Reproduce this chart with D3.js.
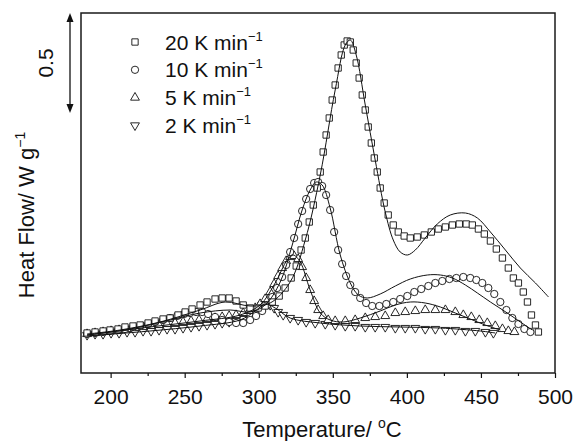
<!DOCTYPE html>
<html>
<head>
<meta charset="utf-8">
<script src="https://d3js.org/d3.v7.min.js"></script>
<style>
  html, body { margin: 0; padding: 0; background: #fff; }
  svg { display: block; font-family: "Liberation Sans", Arial, sans-serif; }
  .tick text { font-size: 21px; fill: #111; }
  .tick line { stroke: #111; stroke-width: 1.2; }
  .domain { display: none; }
</style>
</head>
<body>
<svg id="the-svg" width="573" height="441"></svg>
<script>

// Heating rates, legend order
const RATES = ['20', '10', '5', '2'];

const rate20 = [
  [184.1, 0.2], [189.5, 0.205], [194.9, 0.21], [199.6, 0.215], [205.0, 0.22], [209.7, 0.23],
  [215.1, 0.235], [219.9, 0.24], [225.3, 0.25], [230.0, 0.26], [235.4, 0.27], [240.1, 0.275],
  [245.5, 0.29], [250.3, 0.305], [255.0, 0.32], [260.4, 0.34], [265.1, 0.355], [270.5, 0.37],
  [275.3, 0.375], [280.0, 0.375], [284.7, 0.36], [289.5, 0.34], [294.2, 0.325], [299.6, 0.325],
  [304.3, 0.335], [309.1, 0.355], [313.8, 0.385], [317.8, 0.425], [321.9, 0.475], [325.3, 0.535],
  [328.6, 0.615], [331.4, 0.675], [334.1, 0.755], [336.8, 0.84], [339.5, 0.925], [341.5, 1.005],
  [343.5, 1.105], [345.5, 1.19], [347.6, 1.275], [349.6, 1.365], [351.6, 1.44], [353.6, 1.525],
  [355.7, 1.59], [357.7, 1.64], [359.7, 1.66], [361.8, 1.655], [363.8, 1.615], [365.8, 1.55],
  [367.8, 1.475], [369.9, 1.39], [371.9, 1.315], [373.9, 1.23], [376.0, 1.15], [378.0, 1.075],
  [380.0, 1.005], [382.0, 0.925], [384.7, 0.85], [387.4, 0.79], [390.8, 0.74], [394.2, 0.705],
  [398.2, 0.685], [402.3, 0.675], [407.0, 0.68], [411.8, 0.69], [416.5, 0.705], [421.2, 0.72],
  [426.0, 0.73], [430.7, 0.74], [435.4, 0.745], [440.1, 0.745], [444.2, 0.74], [448.3, 0.72],
  [452.3, 0.695], [456.4, 0.66], [460.4, 0.62], [464.5, 0.575], [468.5, 0.525], [471.9, 0.475],
  [475.3, 0.45], [478.6, 0.405], [481.4, 0.355], [484.1, 0.29], [486.8, 0.24], [488.8, 0.205]
];

const rate10 = [
  [184.1, 0.195], [189.5, 0.2], [194.9, 0.205], [199.6, 0.21], [205.0, 0.215], [209.7, 0.22],
  [215.1, 0.23], [219.9, 0.235], [225.3, 0.245], [230.0, 0.255], [235.4, 0.265], [240.1, 0.275],
  [244.9, 0.285], [249.6, 0.295], [253.6, 0.3], [257.7, 0.305], [261.8, 0.305], [265.8, 0.295],
  [270.5, 0.28], [275.3, 0.265], [280.0, 0.255], [284.7, 0.25], [289.5, 0.25], [294.2, 0.265],
  [298.2, 0.285], [302.3, 0.31], [305.7, 0.34], [309.1, 0.38], [312.4, 0.425], [315.8, 0.48],
  [318.5, 0.54], [321.2, 0.605], [323.9, 0.675], [326.6, 0.745], [329.3, 0.81], [332.0, 0.87],
  [334.7, 0.92], [337.4, 0.95], [340.1, 0.955], [342.8, 0.935], [345.5, 0.89], [348.2, 0.815],
  [350.9, 0.705], [353.6, 0.615], [356.3, 0.545], [359.0, 0.485], [361.8, 0.44], [365.1, 0.405],
  [368.5, 0.375], [372.5, 0.35], [376.6, 0.335], [381.4, 0.335], [386.1, 0.345], [390.8, 0.355],
  [395.5, 0.37], [400.3, 0.385], [405.0, 0.405], [409.7, 0.42], [414.5, 0.435], [419.2, 0.45],
  [423.9, 0.46], [428.7, 0.47], [433.4, 0.475], [438.1, 0.48], [442.8, 0.475], [446.9, 0.465],
  [450.9, 0.45], [455.0, 0.425], [459.0, 0.395], [463.1, 0.355], [467.2, 0.315], [471.2, 0.275],
  [475.3, 0.245], [479.3, 0.22], [483.4, 0.205]
];

const rate5 = [
  [184.1, 0.195], [189.5, 0.2], [194.9, 0.205], [200.3, 0.21], [205.7, 0.215], [211.1, 0.22],
  [216.5, 0.225], [221.9, 0.23], [227.3, 0.235], [232.7, 0.24], [238.1, 0.245], [243.5, 0.25],
  [248.9, 0.255], [254.3, 0.26], [259.7, 0.265], [265.1, 0.27], [270.5, 0.275], [275.3, 0.28],
  [280.0, 0.285], [284.7, 0.29], [289.5, 0.3], [293.5, 0.31], [297.6, 0.325], [300.9, 0.345],
  [304.3, 0.37], [307.7, 0.405], [310.4, 0.445], [313.1, 0.485], [315.8, 0.525], [318.5, 0.56],
  [321.2, 0.58], [323.9, 0.585], [326.6, 0.57], [329.3, 0.53], [332.0, 0.475], [334.7, 0.415],
  [337.4, 0.36], [340.1, 0.315], [343.5, 0.285], [346.9, 0.265], [351.6, 0.26], [358.4, 0.26],
  [365.1, 0.265], [371.9, 0.275], [378.6, 0.28], [385.4, 0.285], [392.2, 0.3], [398.9, 0.305],
  [405.7, 0.31], [412.4, 0.315], [419.2, 0.315], [426.0, 0.315], [432.7, 0.305], [438.1, 0.29],
  [443.5, 0.28], [448.9, 0.265], [454.3, 0.25], [459.7, 0.235], [464.5, 0.22], [468.5, 0.21],
  [472.6, 0.205]
];

const rate2 = [
  [184.1, 0.19], [189.5, 0.195], [194.9, 0.195], [200.3, 0.2], [205.7, 0.2], [211.1, 0.205],
  [216.5, 0.205], [221.9, 0.21], [227.3, 0.21], [232.7, 0.215], [238.1, 0.22], [243.5, 0.22],
  [248.9, 0.225], [254.3, 0.23], [259.7, 0.235], [265.1, 0.24], [270.5, 0.245], [275.3, 0.25],
  [280.0, 0.255], [284.7, 0.26], [289.5, 0.27], [293.5, 0.285], [296.9, 0.305], [299.6, 0.325],
  [302.3, 0.34], [305.0, 0.345], [307.7, 0.34], [310.4, 0.325], [313.1, 0.305], [316.5, 0.29],
  [321.2, 0.275], [326.6, 0.265], [332.0, 0.255], [338.1, 0.25], [344.9, 0.245], [351.6, 0.24],
  [358.4, 0.235], [365.1, 0.235], [371.9, 0.23], [378.6, 0.23], [385.4, 0.23], [392.2, 0.225],
  [398.9, 0.225], [405.7, 0.225], [412.4, 0.22], [419.2, 0.22], [426.0, 0.215], [432.7, 0.215],
  [439.5, 0.21], [446.2, 0.21], [453.0, 0.205], [458.4, 0.2]
];

// Model (fitted) curves drawn as thin solid lines
const fit20 = [
  [184.1, 0.195], [206.4, 0.215], [233.4, 0.255], [260.4, 0.315], [277.3, 0.355], [294.2, 0.335],
  [307.7, 0.35], [321.2, 0.455], [331.4, 0.665], [341.5, 0.99], [351.6, 1.415], [358.4, 1.64],
  [361.8, 1.665], [365.8, 1.59], [371.9, 1.34], [378.6, 1.065], [385.4, 0.805], [390.8, 0.665],
  [395.5, 0.605], [400.3, 0.59], [405.7, 0.615], [412.4, 0.675], [420.5, 0.745], [429.3, 0.79],
  [439.5, 0.8], [447.6, 0.775], [456.4, 0.705], [466.5, 0.615], [476.6, 0.525], [486.8, 0.45],
  [495.6, 0.38]
];

const fit10 = [
  [184.1, 0.19], [213.1, 0.22], [240.1, 0.265], [260.4, 0.3], [280.7, 0.315], [294.2, 0.305],
  [304.3, 0.34], [314.5, 0.455], [322.6, 0.64], [329.3, 0.815], [334.7, 0.915], [338.8, 0.955],
  [342.8, 0.94], [348.2, 0.825], [355.0, 0.59], [361.8, 0.45], [367.2, 0.39], [373.2, 0.375],
  [382.0, 0.395], [392.2, 0.435], [402.3, 0.47], [413.8, 0.49], [422.6, 0.49], [430.7, 0.475],
  [439.5, 0.44], [447.6, 0.4], [456.4, 0.355], [467.8, 0.3], [476.6, 0.255], [484.7, 0.215]
];

const fit5 = [
  [184.1, 0.19], [226.6, 0.23], [260.4, 0.26], [287.4, 0.29], [300.9, 0.34], [311.1, 0.45],
  [319.2, 0.565], [323.2, 0.59], [328.0, 0.555], [334.7, 0.415], [341.5, 0.3], [348.2, 0.265],
  [357.0, 0.255], [368.5, 0.275], [382.0, 0.31], [392.2, 0.34], [402.3, 0.355], [412.4, 0.35],
  [422.6, 0.33], [432.7, 0.3], [442.8, 0.27], [452.9, 0.24], [463.1, 0.215]
];

const fit2 = [
  [184.1, 0.185], [226.6, 0.21], [260.4, 0.235], [287.4, 0.265], [297.6, 0.31], [304.3, 0.345],
  [311.1, 0.325], [321.2, 0.275], [341.5, 0.25], [368.5, 0.235], [395.5, 0.23], [422.6, 0.225],
  [449.6, 0.21], [459.7, 0.2]
];

const X_MAJOR = [200, 250, 300, 350, 400, 450, 500];
const X_MINOR = [225, 275, 325, 375, 425, 475];
const SCALE_BAR = [1.3, 1.8]; // 0.5 units of heat flow

//////////////
// Layout   //
//////////////

const svg = d3.select('#the-svg');
const x = d3.scaleLinear().domain([180, 500]).range([81, 555]);
const y = d3.scaleLinear().domain([0, 1.8]).range([373, 13]);

const symbols = {
  '20': d3.symbol().type(d3.symbolSquare).size(40),
  '10': d3.symbol().type(d3.symbolCircle).size(42),
  '5': d3.symbol().type(d3.symbolTriangle).size(34),
  '2': d3.symbol().type(d3.symbolTriangle).size(34)
};
const rotation = { '20': 0, '10': 0, '5': 0, '2': 180 };

const markerSeries = [
  { rate: '2', data: rate2 },
  { rate: '5', data: rate5 },
  { rate: '10', data: rate10 },
  { rate: '20', data: rate20 }
];
const fitSeries = [fit2, fit5, fit10, fit20];

// frame
svg.append('rect')
  .attr('x', x(180)).attr('y', y(1.8))
  .attr('width', x(500) - x(180)).attr('height', y(0) - y(1.8))
  .attr('fill', 'none').attr('stroke', '#1a1a1a').attr('stroke-width', 1.5);

// x axis ticks
svg.append('g')
  .attr('transform', `translate(0,${y(0)})`)
  .call(d3.axisBottom(x).tickValues(X_MAJOR).tickSize(5).tickPadding(11).tickFormat(d3.format('d')));

svg.append('g')
  .attr('transform', `translate(0,${y(0)})`)
  .call(d3.axisBottom(x).tickValues(X_MINOR).tickSize(3).tickFormat(''));

// markers
const markerGroups = svg.append('g')
  .selectAll('g')
  .data(markerSeries)
  .enter()
  .append('g');

markerGroups.selectAll('path')
  .data(s => s.data.map(d => ({ rate: s.rate, t: d[0], v: d[1] })))
  .enter()
  .append('path')
    .attr('d', d => symbols[d.rate]())
    .attr('transform', d => `translate(${x(d.t)},${y(d.v)}) rotate(${rotation[d.rate]})`)
    .attr('fill', '#fff')
    .attr('stroke', '#111')
    .attr('stroke-width', 0.9);

// fitted lines on top
const line = d3.line()
  .x(d => x(d[0]))
  .y(d => y(d[1]))
  .curve(d3.curveCatmullRom.alpha(0.5));

svg.append('g')
  .selectAll('path')
  .data(fitSeries)
  .enter()
  .append('path')
    .attr('d', line)
    .attr('fill', 'none')
    .attr('stroke', '#111')
    .attr('stroke-width', 1);

//////////////
// Legend   //
//////////////

const legend = svg.append('g')
  .selectAll('g')
  .data(RATES)
  .enter()
  .append('g')
    .attr('transform', (d, i) => `translate(135,${42 + i * 27.8})`);

legend.append('path')
  .attr('d', d => symbols[d]())
  .attr('transform', d => `rotate(${rotation[d]})`)
  .attr('fill', '#fff')
  .attr('stroke', '#111')
  .attr('stroke-width', 0.9);

const legendText = legend.append('text')
  .attr('x', 30)
  .attr('y', 7.5)
  .attr('font-size', 21)
  .attr('fill', '#111');
legendText.append('tspan').text(d => `${d} K min`);
legendText.append('tspan')
  .attr('font-size', 13)
  .attr('dy', -9)
  .text('\u22121');

//////////////////////
// Scale bar arrow  //
//////////////////////

const barX = 70;
svg.append('line')
  .attr('x1', barX).attr('x2', barX)
  .attr('y1', y(SCALE_BAR[1]) + 4).attr('y2', y(SCALE_BAR[0]) - 4)
  .attr('stroke', '#111').attr('stroke-width', 1.3);

svg.append('path')
  .attr('d', `M${barX},${y(SCALE_BAR[1])} l-3.5,9 l7,0 z`)
  .attr('fill', '#111');
svg.append('path')
  .attr('d', `M${barX},${y(SCALE_BAR[0])} l-3.5,-9 l7,0 z`)
  .attr('fill', '#111');

svg.append('text')
  .attr('transform', `translate(53,${y((SCALE_BAR[0] + SCALE_BAR[1]) / 2)}) rotate(-90)`)
  .attr('text-anchor', 'middle')
  .attr('font-size', 21)
  .attr('fill', '#111')
  .text('0.5');

//////////////////
// Axis titles  //
//////////////////

const xTitle = svg.append('text')
  .attr('x', 322)
  .attr('y', 437)
  .attr('text-anchor', 'middle')
  .attr('font-size', 22)
  .attr('fill', '#111');
xTitle.append('tspan').text('Temperature/ ');
xTitle.append('tspan').attr('font-size', 14).attr('dy', -9).text('o');
xTitle.append('tspan').attr('dy', 9).text('C');

const yTitle = svg.append('text')
  .attr('transform', 'translate(34,215) rotate(-90)')
  .attr('text-anchor', 'middle')
  .attr('font-size', 22)
  .attr('fill', '#111');
yTitle.append('tspan').text('Heat Flow/ W g');
yTitle.append('tspan').attr('font-size', 14).attr('dy', -9).text('\u22121');

</script>
</body>
</html>
